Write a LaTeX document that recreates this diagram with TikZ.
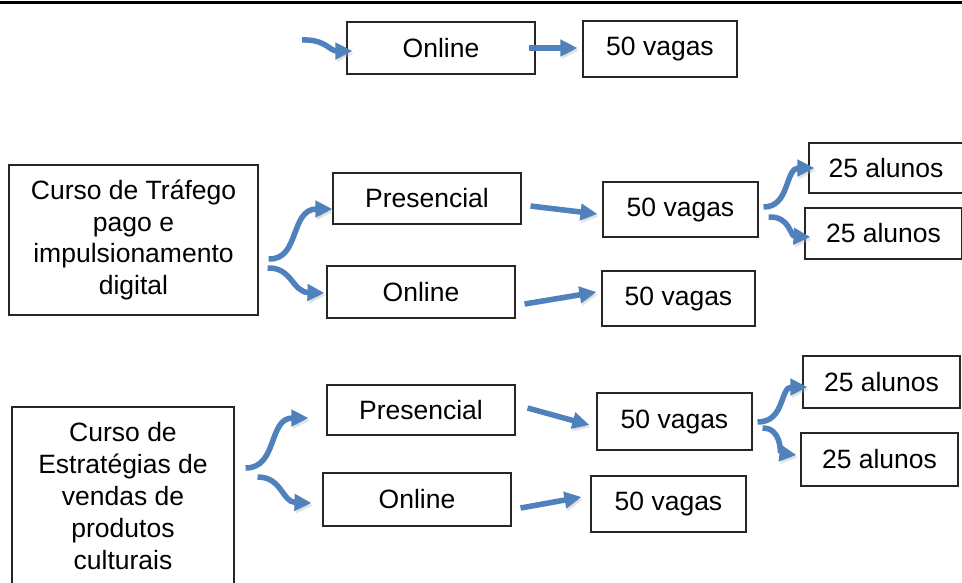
\documentclass[tikz,border=0pt]{standalone}
\usepackage{fontspec}
\setmainfont{Liberation Sans}
\usetikzlibrary{arrows.meta,calc}
\definecolor{arrblue}{HTML}{4F81BD}
\tikzset{
  box/.style={draw=black!85, line width=1.1pt, rectangle, inner sep=0pt, align=center,
    font=\fontsize{26.5}{31.8}\selectfont},
  barrow/.style={draw=arrblue, line width=5.5pt, -{Triangle[length=17pt,width=16pt]},
    preaction={draw=black!30, opacity=0.35, transform canvas={shift={(1.5pt,-2.5pt)}}}},
}
\begin{document}
\begin{tikzpicture}[x=1pt,y=-1pt]
\useasboundingbox (0,0) rectangle (962,582);
\clip (0,0) rectangle (962,582);
\fill[white] (0,0) rectangle (962,582);
% top rule
\draw[line width=3.5pt] (0,2.5) -- (962,2.5);

% top row
\node[box, minimum width=188pt, minimum height=52pt] (tOn) at (441,48) {Online};
\node[box, minimum width=154pt, minimum height=56pt] (tVa) at (660,49) {50 vagas};
\coordinate (tIn) at (302,40);

% second group
\node[box, minimum width=249pt, minimum height=150pt] (c1) at (133.5,240) {Curso de Tráfego\\pago e\\impulsionamento\\digital};
\node[box, minimum width=188pt, minimum height=51pt] (p1) at (427,198.5) {Presencial};
\node[box, minimum width=188pt, minimum height=52pt] (o1) at (421,292) {Online};
\node[box, minimum width=155pt, minimum height=55pt] (v1a) at (680.5,209.5) {50 vagas};
\node[box, minimum width=153pt, minimum height=55pt] (v1b) at (678.5,298.5) {50 vagas};
\node[box, minimum width=154pt, minimum height=50pt] (a1a) at (886,168) {25 alunos};
\node[box, minimum width=157pt, minimum height=51pt] (a1b) at (883.5,233.5) {25 alunos};

% third group
\node[box, minimum width=222pt, minimum height=178pt] (c2) at (123,496) {Curso de\\Estratégias de\\vendas de\\produtos\\culturais};
\node[box, minimum width=188pt, minimum height=50pt] (p2) at (421,410) {Presencial};
\node[box, minimum width=188pt, minimum height=53pt] (o2) at (417,499.5) {Online};
\node[box, minimum width=155pt, minimum height=57pt] (v2a) at (674.5,421.5) {50 vagas};
\node[box, minimum width=155pt, minimum height=56pt] (v2b) at (668.5,504) {50 vagas};
\node[box, minimum width=157pt, minimum height=52pt] (a2a) at (881.5,382) {25 alunos};
\node[box, minimum width=157pt, minimum height=53pt] (a2b) at (879.5,459.5) {25 alunos};

% arrows top
\draw[barrow] (tIn) .. controls (325,39) and (330,51) .. ($(tOn.west)+(6,3)$);
\draw[barrow] ($(tOn.east)+(-7,0)$) -- ($(tVa.west)+(-5,-1)$);

% arrows second group
\draw[barrow] ($(c1.east)+(10,19)$) .. controls (300,260) and (290,209) .. ($(p1.west)+(0,10.5)$);
\draw[barrow] ($(c1.east)+(9,28)$) .. controls (292,267) and (292,292) .. ($(o1.west)+(-2,1)$);
\draw[barrow] ($(p1.east)+(9,7.5)$) -- ($(v1a.west)+(-5,4.5)$);
\draw[barrow] ($(o1.east)+(9,12)$) -- ($(v1b.west)+(-5,-6.5)$);
\draw[barrow] ($(v1a.east)+(5,-2.5)$) .. controls (790,207) and (785,168) .. ($(a1a.west)+(6,0)$);
\draw[barrow] ($(v1a.east)+(10,7.5)$) .. controls (790,216) and (790,236) .. ($(a1b.west)+(6,3.5)$);

% arrows third group
\draw[barrow] ($(c2.east)+(11,-28)$) .. controls (278,468) and (268,418) .. ($(p2.west)+(-18,8)$);
\draw[barrow] ($(c2.east)+(23,-19)$) .. controls (282,477) and (282,502) .. ($(o2.west)+(-11,3.5)$);
\draw[barrow] ($(p2.east)+(12,-2)$) -- ($(v2a.west)+(-7,3.5)$);
\draw[barrow] ($(o2.east)+(9,8.5)$) -- ($(v2b.west)+(-9,-7)$);
\draw[barrow] ($(v2a.east)+(5,0.5)$) .. controls (785,422) and (780,387) .. ($(a2a.west)+(5,5)$);
\draw[barrow] ($(v2a.east)+(10,6.5)$) .. controls (782,428) and (780,453) .. ($(a2b.west)+(-4,-4.5)$);
\end{tikzpicture}
\end{document}
